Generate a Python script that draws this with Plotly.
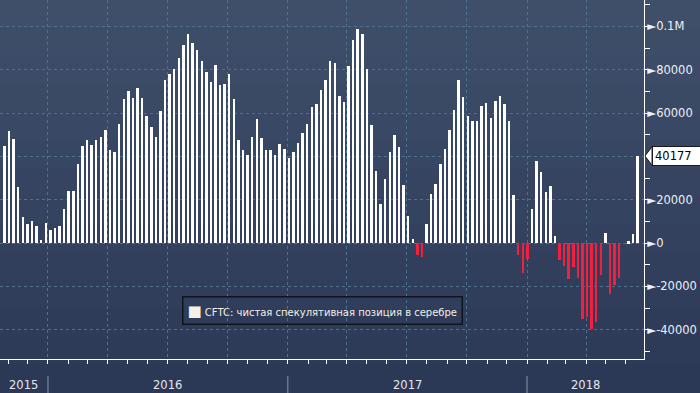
import pandas as pd
import plotly.graph_objects as go

# ---- data ----
last_date = "2018-06-19"
values = [
    45000, 51700, 48000, 25800, 12000, 8800, 10150, 7850, 1400, 9200, 6000, 6900, 7850, 15700,
    24000, 24000, 36450, 44760, 47500, 45200, 47500, 48900, 52100, 42900, 42000, 54900, 66400, 70100,
    66900, 71500, 66900, 58600, 53500, 48900, 60900, 75200, 78000, 80300, 85400, 91400, 96400, 92300,
    89000, 84000, 78900, 74300, 82100, 72900, 73400, 78000, 66400, 47500, 42900, 40600, 48900,
    57200, 48400, 42900, 42900, 40600, 45700, 43400, 39200, 42000, 46100, 50800, 54900, 62800, 64100,
    70600, 75200, 84000, 83100, 67800, 65100, 81700, 93700, 98700, 96400, 80300, 54400, 33200, 18000,
    29500, 42000, 49800, 44300, 26800, 12500, 1850, -5500, -6500, 8800, 22600, 27200, 36500, 43400,
    52100, 61400, 75200, 67400, 58600, 56300, 56300, 63200, 64600, 57700, 65500, 67800, 64100, 56300,
    22100, -5500, -13800, -7400, 15700, 37800, 32800, 23500, 26300, 3200, -7800, -10600, -16600, -11100,
    -16100, -35100, -34100, -39700, -36500, -14800, 4600, -23500, -19400, -16100, -300, 900, 4150, 40177,
]
dates = pd.date_range(end=last_date, periods=len(values), freq="7D")
y_ticks = [-40000, -20000, 0, 20000, 40000, 60000, 80000, 100000]
# the 40000 label is hidden behind the last-value box in the original
y_labels = ["-40000", "-20000", "0", "20000", "", "60000", "80000", "0.1M"]
years = ["2015", "2016", "2017", "2018"]
year_starts = ["2016-01-01", "2017-01-01", "2018-01-01"]
legend_name = "CFTC: чистая спекулятивная позиция в серебре"
last_value = values[-1]

# ---- styling ----
W, H = 700, 393
ML, MR, MT, MB = 0, 56, 0, 34
x_range = [pd.Timestamp("2015-10-19 19:00"), pd.Timestamp("2018-06-28 12:00")]
y_range = [-53500, 112150]
RED = "#f2203f"
GRID = "#4e7190"
FONT = "DejaVu Sans"

colors = ["#ffffff" if v >= 0 else RED for v in values]

fig = go.Figure()
fig.add_trace(go.Bar(
    x=dates, y=values, marker=dict(color=colors, line=dict(width=0)),
    width=3 * 86400000, showlegend=False, hoverinfo="x+y",
))

# background gradient (stepped) as paper shapes
top = (63, 79, 106)
bot = (43, 56, 86)
n = 14
paper_bottom = -MB / (H - MB - MT)
shapes = []
for i in range(n):
    t = i / (n - 1)
    c = tuple(round(top[k] + (bot[k] - top[k]) * t) for k in range(3))
    y1 = 1 - (1 - paper_bottom) * i / n
    y0 = 1 - (1 - paper_bottom) * (i + 1) / n
    shapes.append(dict(type="rect", xref="paper", yref="paper", x0=0, x1=W / (W - ML - MR),
                       y0=y0 - 0.002, y1=y1, fillcolor="rgb(%d,%d,%d)" % c,
                       line=dict(width=0), layer="below"))

# year separators
for d in year_starts:
    shapes.append(dict(type="line", xref="x", yref="paper", x0=d, x1=d,
                       y0=-17 / 359, y1=paper_bottom, line=dict(color="#8d96a6", width=1)))

# last value pointer
ph = 4300
shapes.append(dict(type="path", xref="paper", yref="y",
                   path="M 1.0125 %f L 1.0015 %f L 1.0125 %f Z" % (last_value + ph, last_value, last_value - ph),
                   fillcolor="white", line=dict(color="#1a1a1a", width=1), layer="above"))

annotations = []
# year labels
bounds = [x_range[0]] + [pd.Timestamp(d) for d in year_starts] + [x_range[1]]
for i, yr in enumerate(years):
    mid = bounds[i] + (bounds[i + 1] - bounds[i]) / 2
    annotations.append(dict(x=mid, y=-26 / 359, xref="x", yref="paper", text=yr, showarrow=False,
                            font=dict(family=FONT, size=11.5, color="#e4e8ee"), yanchor="middle"))

# last value box
annotations.append(dict(x=1.0125, y=last_value, xref="paper", yref="y", xanchor="left", yanchor="middle",
                        text=str(last_value), showarrow=False, bgcolor="white", bordercolor="#1a1a1a",
                        borderwidth=1, borderpad=2, width=44, align="left",
                        font=dict(family=FONT, size=11.5, color="black")))

# legend box
annotations.append(dict(x=0.5, y=(359 - 310) / 359, xref="paper", yref="paper", xanchor="center",
                        yanchor="middle", showarrow=False,
                        text='<span style="font-size:15px">■</span> ' + legend_name,
                        bordercolor="#10141c", borderwidth=1.5, borderpad=4,
                        font=dict(family=FONT, size=10, color="#f3f0e6")))

fig.update_layout(
    width=W, height=H,
    margin=dict(l=ML, r=MR, t=MT, b=MB),
    paper_bgcolor="rgb(%d,%d,%d)" % bot,
    plot_bgcolor="rgba(0,0,0,0)",
    bargap=0,
    shapes=shapes,
    annotations=annotations,
    xaxis=dict(
        type="date", range=x_range, showticklabels=False,
        showline=True, linecolor="white", linewidth=1,
        ticks="outside", ticklen=4, tickcolor="white", tick0="2016-01-01", dtick="M3",
        showgrid=True, gridcolor=GRID, griddash="3px,3px", gridwidth=1,
        minor=dict(ticks="outside", ticklen=4, tickcolor="white", dtick="M1", tick0="2016-01-01",
                   showgrid=False),
        zeroline=False, fixedrange=True,
    ),
    yaxis=dict(
        side="right", range=y_range, tickmode="array", tickvals=y_ticks,
        ticktext=[("►" + t) if t else "" for t in y_labels],
        showline=True, linecolor="white", linewidth=1,
        ticks="", showgrid=True, gridcolor=GRID, griddash="3px,3px", gridwidth=1,
        minor=dict(ticks="outside", ticklen=5, tickcolor="white", dtick=10000, tick0=0, showgrid=False),
        tickfont=dict(family=FONT, size=11.5, color="#eef0f4"),
        zeroline=False, fixedrange=True, automargin=False,
    ),
    showlegend=False,
)

fig.write_html("out.html", config={"displayModeBar": False},
               post_script="document.body.style.margin='0px';document.body.style.overflow='hidden';")
